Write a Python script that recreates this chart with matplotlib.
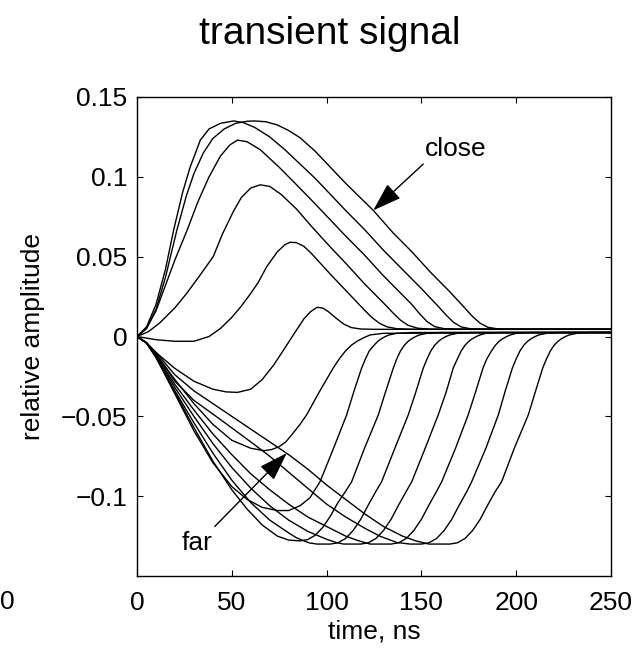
import matplotlib
matplotlib.use('Agg')
import matplotlib.pyplot as plt

plt.rcParams['font.family'] = ['Liberation Sans', 'DejaVu Sans']

# curves: time in ns, relative amplitude
# "close" curves with a positive hump
u1_t = [0, 5, 10, 15, 21, 26, 30, 35, 40, 46, 52, 58, 62, 68, 74, 80, 86, 94, 102, 110, 124.6, 135, 145, 155, 165, 172, 177, 181, 185, 190, 200, 250]
u1_y = [0, 0.005, 0.017, 0.037, 0.0665, 0.088, 0.102, 0.115, 0.124, 0.130, 0.1335, 0.1348, 0.135, 0.1345, 0.1325, 0.129, 0.1245, 0.116, 0.106, 0.096, 0.079, 0.065, 0.053, 0.040, 0.028, 0.019, 0.0125, 0.0083, 0.0058, 0.0048, 0.0045, 0.0045]

u2_t = [0, 5, 10, 15, 19.3, 24, 28, 33.4, 38, 44, 51, 56, 62, 70, 78, 86, 94, 102, 110, 120, 130, 140, 150, 158, 163, 167, 171, 176, 185, 250]
u2_y = [0, 0.006, 0.020, 0.042, 0.0665, 0.090, 0.106, 0.123, 0.130, 0.1335, 0.135, 0.134, 0.131, 0.125, 0.117, 0.108, 0.099, 0.089, 0.079, 0.067, 0.054, 0.042, 0.030, 0.020, 0.0135, 0.0088, 0.006, 0.0048, 0.0045, 0.0045]

u3_t = [0, 5, 10, 15, 20, 26.4, 32, 38, 44, 49, 53, 58, 65, 75, 85, 94, 102, 110, 120, 130, 140, 145, 149, 153, 157, 162, 170, 250]
u3_y = [0, 0.005, 0.016, 0.032, 0.048, 0.0665, 0.084, 0.100, 0.113, 0.120, 0.123, 0.122, 0.117, 0.106, 0.094, 0.083, 0.073, 0.063, 0.051, 0.038, 0.026, 0.020, 0.0143, 0.0093, 0.0062, 0.0049, 0.0045, 0.0045]

u4_t = [0, 6, 12, 20, 26.2, 33, 40.2, 45, 50.7, 55, 60, 65, 70, 76, 84, 92, 102, 110, 120, 130, 135, 139, 143, 148, 155, 250]
u4_y = [0, 0.003, 0.0085, 0.018, 0.027, 0.038, 0.050, 0.064, 0.078, 0.087, 0.093, 0.095, 0.094, 0.089, 0.080, 0.069, 0.056, 0.046, 0.033, 0.021, 0.0148, 0.0102, 0.007, 0.0052, 0.0045, 0.0045]

u5_t = [0, 10, 20, 30, 38, 44, 50, 55, 60, 64, 68.4, 74, 78, 80.7, 84, 88, 92, 97, 102, 110, 120, 124, 128, 132, 137, 145, 250]
u5_y = [0, -0.002, -0.003, -0.003, 0.0, 0.005, 0.012, 0.019, 0.027, 0.034, 0.0437, 0.053, 0.0575, 0.059, 0.0588, 0.0565, 0.052, 0.0455, 0.039, 0.029, 0.0165, 0.0118, 0.0082, 0.006, 0.0049, 0.0045, 0.0045]

u6_t = [0, 5, 10, 20, 30, 40, 47, 53, 60, 66, 72, 77, 83, 88, 91.5, 95, 98, 101, 105, 109, 113, 118, 125, 250]
u6_y = [0, -0.004, -0.010, -0.020, -0.028, -0.033, -0.0347, -0.035, -0.033, -0.027, -0.018, -0.009, 0.002, 0.011, 0.0155, 0.0183, 0.0178, 0.0155, 0.0115, 0.0078, 0.0056, 0.0047, 0.0045, 0.0045]

# "far" curves with a negative dip
n2_t = [0, 5, 10, 20, 30, 40, 50, 60, 67, 71, 75, 78.5, 82, 86, 89.5, 96, 103.5, 107, 110, 113, 116, 119.5, 123, 130, 250]
n2_y = [0, -0.004, -0.011, -0.027, -0.042, -0.055, -0.065, -0.070, -0.0715, -0.0708, -0.069, -0.066, -0.061, -0.055, -0.049, -0.035, -0.0197, -0.0135, -0.009, -0.0055, -0.003, -0.0008, 0.001, 0.002, 0.0025]

n3_t = [0, 5, 10, 20, 30, 40, 50, 58, 66, 74, 80, 86, 91.2, 96.5, 103, 110.6, 114.5, 118.5, 120.5, 122.5, 125, 127, 129, 131, 133, 137, 145, 250]
n3_y = [0, -0.004, -0.013, -0.036, -0.059, -0.079, -0.094, -0.102, -0.107, -0.109, -0.109, -0.106, -0.101, -0.091, -0.072, -0.049, -0.034, -0.0197, -0.014, -0.009, -0.0055, -0.003, -0.0013, 0.0, 0.001, 0.002, 0.0025, 0.0025]

n4_t = [0, 5, 10, 20, 30, 40, 50, 58, 66, 74, 80, 86, 90, 94, 98, 102, 106, 110, 113.2, 120, 127.3, 131, 135.2, 137, 139, 141, 143, 145, 147, 149, 153, 160, 250]
n4_y = [0, -0.004, -0.013, -0.035, -0.057, -0.078, -0.096, -0.108, -0.118, -0.125, -0.1275, -0.128, -0.1272, -0.1245, -0.1195, -0.1125, -0.104, -0.097, -0.091, -0.070, -0.049, -0.035, -0.0197, -0.014, -0.009, -0.0055, -0.003, -0.0013, 0.0, 0.001, 0.002, 0.0025, 0.0025]

n5_t = [0, 5, 10, 20, 30, 40, 50, 60, 70, 80, 84, 88, 91, 95, 102, 106, 110, 114, 118, 122, 126, 129, 136, 143.1, 147, 151, 153, 155, 157, 159, 161, 163, 165, 169, 176, 250]
n5_y = [0, -0.004, -0.013, -0.034, -0.054, -0.073, -0.090, -0.104, -0.115, -0.123, -0.126, -0.128, -0.1293, -0.130, -0.130, -0.1292, -0.1265, -0.1215, -0.1145, -0.1055, -0.097, -0.091, -0.070, -0.049, -0.035, -0.0197, -0.014, -0.009, -0.0055, -0.003, -0.0013, 0.0, 0.001, 0.002, 0.0025, 0.0025]

n6_t = [0, 5, 10, 20, 30, 40, 50, 60, 70, 80, 90, 100, 105, 109, 118, 122, 126, 130, 134, 138, 142, 144.9, 152, 158.9, 163, 166.8, 169, 171, 173, 175, 177, 179, 181, 184, 191, 250]
n6_y = [0, -0.004, -0.012, -0.032, -0.050, -0.067, -0.082, -0.095, -0.106, -0.115, -0.122, -0.127, -0.129, -0.130, -0.130, -0.1292, -0.1265, -0.1215, -0.1145, -0.1055, -0.097, -0.091, -0.070, -0.049, -0.035, -0.0197, -0.014, -0.009, -0.0055, -0.003, -0.0013, 0.0, 0.001, 0.002, 0.0025, 0.0025]

n7_t = [0, 5, 10, 20, 30, 40, 50, 60, 70, 80, 90, 100, 110, 117, 123, 134, 138, 142, 146, 150, 154, 158, 160.7, 168, 174.7, 178.5, 182.5, 184.5, 187, 189, 191, 193, 195, 197, 200, 207, 250]
n7_y = [0, -0.004, -0.012, -0.030, -0.046, -0.061, -0.074, -0.086, -0.096, -0.105, -0.113, -0.119, -0.125, -0.128, -0.130, -0.130, -0.1292, -0.1265, -0.1215, -0.1145, -0.1055, -0.097, -0.091, -0.070, -0.049, -0.035, -0.0197, -0.014, -0.009, -0.0055, -0.003, -0.0013, 0.0, 0.001, 0.002, 0.0025, 0.0025]

n8_t = [0, 5, 10, 20, 30, 44, 60, 70, 80, 90, 100, 110, 120, 128, 137, 144, 150, 154, 158, 162, 166, 170, 174, 176.5, 184, 190.6, 194, 198, 200, 202, 204, 206, 208, 210, 212, 216, 223, 250]
n8_y = [0, -0.004, -0.011, -0.028, -0.040, -0.052, -0.066, -0.075, -0.085, -0.095, -0.105, -0.113, -0.120, -0.125, -0.129, -0.130, -0.130, -0.1292, -0.1265, -0.1215, -0.1145, -0.1055, -0.097, -0.091, -0.070, -0.049, -0.035, -0.0197, -0.014, -0.009, -0.0055, -0.003, -0.0013, 0.0, 0.001, 0.002, 0.0025, 0.0025]

n9_t = [0, 5, 10, 20, 30, 40, 50, 60, 70, 80, 90, 100, 110, 120, 130, 140, 147, 154, 165, 169, 173, 177, 181, 185, 189, 192.3, 199, 206.4, 210, 214, 216, 218, 220, 222, 224, 226, 228, 232, 239, 250]
n9_y = [0, -0.004, -0.010, -0.024, -0.034, -0.042, -0.050, -0.058, -0.066, -0.074, -0.083, -0.093, -0.102, -0.111, -0.119, -0.125, -0.128, -0.130, -0.130, -0.1292, -0.1265, -0.1215, -0.1145, -0.1055, -0.097, -0.091, -0.070, -0.049, -0.035, -0.0197, -0.014, -0.009, -0.0055, -0.003, -0.0013, 0.0, 0.001, 0.002, 0.0025, 0.0025]

curves = [(u1_t, u1_y), (u2_t, u2_y), (u3_t, u3_y), (u4_t, u4_y), (u5_t, u5_y), (u6_t, u6_y),
          (n2_t, n2_y), (n3_t, n3_y), (n4_t, n4_y), (n5_t, n5_y), (n6_t, n6_y), (n7_t, n7_y),
          (n8_t, n8_y), (n9_t, n9_y)]

xticks = [0, 50, 100, 150, 200, 250]
yticks = [-0.1, -0.05, 0, 0.05, 0.1, 0.15]
ytick_labels = ['\u22120.1', '\u22120.05', '0', '0.05', '0.1', '0.15']

fig = plt.figure(figsize=(6.41, 6.53), dpi=100)
ax = fig.add_axes([137 / 641, 77 / 653, 474 / 641, 479 / 653])

for t, y in curves:
    ax.plot(t, y, color='black', lw=1.0, solid_joinstyle='round')

ax.set_xlim(0, 250)
ax.set_ylim(-0.15, 0.15)
ax.set_xticks(xticks)
ax.set_xticklabels([str(v) for v in xticks])
ax.set_yticks(yticks)
ax.set_yticklabels(ytick_labels)
ax.tick_params(direction='in', length=4, width=0.8, top=True, right=True, labelsize=19)
ax.tick_params(axis='x', pad=11)
ax.tick_params(axis='y', pad=7)
for s in ax.spines.values():
    s.set_linewidth(1.0)

ax.set_xlabel('time, ns', fontsize=19)
ax.set_ylabel('relative amplitude', fontsize=19)
ax.xaxis.set_label_coords(0.5, -0.09)
ax.yaxis.set_label_coords(-0.195, 0.5)

ax.annotate('', xy=(124.6, 0.079), xytext=(151, 0.108),
            arrowprops=dict(arrowstyle='-|>,head_length=0.9,head_width=0.3', mutation_scale=20,
                            color='black', lw=1.0, shrinkA=0, shrinkB=0))
ax.text(168, 0.1175, 'close', fontsize=19, ha='center', va='center')

ax.annotate('', xy=(79, -0.073), xytext=(41, -0.119),
            arrowprops=dict(arrowstyle='-|>,head_length=0.9,head_width=0.3', mutation_scale=20,
                            color='black', lw=1.0, shrinkA=0, shrinkB=0))
ax.text(31.5, -0.1295, 'far', fontsize=19, ha='center', va='center')

fig.text(330 / 641, 1 - 44 / 653, 'transient signal', fontsize=28, ha='center', va='baseline')
# tick label left over from the neighbouring panel
fig.text(7 / 641, 1 - 602 / 653, '0', fontsize=19, ha='center', va='center')

fig.savefig('out.png', dpi=100)
